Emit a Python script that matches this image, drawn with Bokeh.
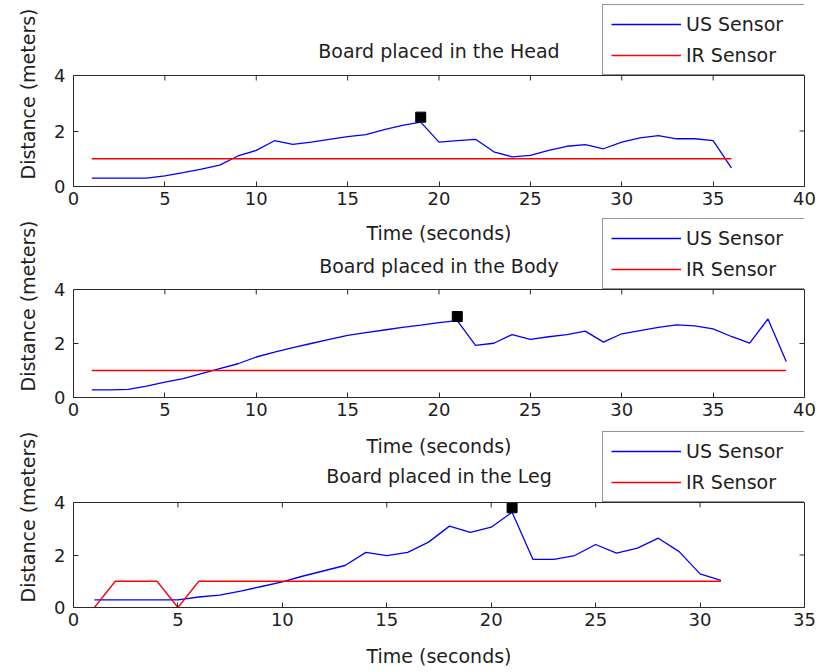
from bokeh.plotting import figure
from bokeh.layouts import column
from bokeh.models import (Range1d, FixedTicker, Legend, LegendItem, Label, LinearAxis, Span)
from bokeh.embed import file_html
from bokeh.resources import INLINE

# ---------------- data ----------------
head_time = [1, 2, 3, 4, 5, 6, 7, 8, 9, 10, 11, 12, 13, 14, 15, 16, 17, 18,
             19, 20, 21, 22, 23, 24, 25, 26, 27, 28, 29, 30, 31, 32, 33, 34, 35, 36]
head_us = [0.30, 0.30, 0.30, 0.30, 0.38, 0.50, 0.63, 0.77, 1.10, 1.30, 1.65, 1.52,
           1.60, 1.70, 1.80, 1.87, 2.05, 2.20, 2.32, 1.60, 1.65, 1.70, 1.25, 1.07,
           1.12, 1.30, 1.45, 1.51, 1.36, 1.60, 1.75, 1.83, 1.72, 1.72, 1.65, 0.67]
head_ir_time = [1, 36]
head_ir = [1, 1]
head_peak_time = [19]
head_peak = [2.5]

body_time = [1, 2, 3, 4, 5, 6, 7, 8, 9, 10, 11, 12, 13, 14, 15, 16, 17, 18, 19, 20,
             21, 22, 23, 24, 25, 26, 27, 28, 29, 30, 31, 32, 33, 34, 35, 36, 37, 38, 39]
body_us = [0.28, 0.28, 0.30, 0.42, 0.57, 0.70, 0.88, 1.07, 1.25, 1.50, 1.68, 1.85,
           2.00, 2.15, 2.30, 2.40, 2.50, 2.60, 2.68, 2.77, 2.85, 1.93, 2.01, 2.33,
           2.15, 2.25, 2.33, 2.46, 2.05, 2.36, 2.48, 2.60, 2.69, 2.65, 2.54, 2.26,
           2.01, 2.91, 1.33]
body_ir_time = [1, 39]
body_ir = [1, 1]
body_peak_time = [21]
body_peak = [3.0]

leg_time = [1, 2, 3, 4, 5, 6, 7, 8, 9, 10, 11, 12, 13, 14, 15, 16, 17, 18, 19, 20,
            21, 22, 23, 24, 25, 26, 27, 28, 29, 30, 31]
leg_us = [0.29, 0.29, 0.29, 0.29, 0.29, 0.40, 0.47, 0.62, 0.80, 0.98, 1.20, 1.40,
          1.60, 2.10, 1.98, 2.10, 2.49, 3.10, 2.86, 3.06, 3.63, 1.83, 1.83, 1.98,
          2.40, 2.07, 2.26, 2.64, 2.13, 1.28, 1.03]
leg_ir_time = [1, 2, 4, 5, 6, 31]
leg_ir = [0, 1, 1, 0, 1, 1]
leg_peak_time = [21]
leg_peak = [3.8]

y_ticks = [0, 2, 4]
x_ticks_40 = [0, 5, 10, 15, 20, 25, 30, 35, 40]
x_ticks_35 = [0, 5, 10, 15, 20, 25, 30, 35]

titles = ["Board placed in the Head", "Board placed in the Body", "Board placed in the Leg"]
x_label = "Time (seconds)"
y_label = "Distance (meters)"
series_names = ["US Sensor", "IR Sensor"]

# ---------------- style ----------------
FONT = "DejaVu Sans"
TXT = "#1e1e1e"
BOX = "#2a2a2a"
BLUE = "#0000ff"
RED = "#ff0000"
W = 818
LEFT = 73
FRAME_W = 731
YMAX = 4


def panel(t, us, ir_t, ir, pk_t, pk, xmax, xticks, title, height, frame_h, box_h,
          title_dy, prev_dy=None, own_xlabel=False):
    # the frame also holds the band above the axes box (title + legend),
    # the axes box itself is 0..YMAX, drawn by bounded axes and a span
    y_top = YMAX * frame_h / box_h
    p = figure(width=W, height=height, x_range=Range1d(0, xmax), y_range=Range1d(0, y_top),
               output_backend="svg", toolbar_location=None,
               min_border_left=LEFT, min_border_right=W - LEFT - FRAME_W,
               min_border_top=1, min_border_bottom=height - 1 - frame_h)
    p.background_fill_color = "white"
    p.border_fill_color = "white"
    p.outline_line_color = None
    p.xgrid.visible = False
    p.ygrid.visible = False

    for ax, ticks in ((p.xaxis[0], xticks), (p.yaxis[0], y_ticks)):
        ax.ticker = FixedTicker(ticks=ticks)
        ax.minor_tick_line_color = None
        ax.major_tick_in = 5
        ax.major_tick_out = 0
        ax.major_tick_line_color = BOX
        ax.axis_line_color = BOX
        ax.major_label_text_font = FONT
        ax.major_label_text_font_size = "18px"
        ax.major_label_text_color = TXT
    p.yaxis[0].bounds = (0, YMAX)
    p.xaxis[0].major_label_standoff = 5
    p.yaxis[0].major_label_standoff = 8
    p.yaxis[0].axis_label = y_label
    p.yaxis[0].axis_label_text_font = FONT
    p.yaxis[0].axis_label_text_font_size = "19px"
    p.yaxis[0].axis_label_text_font_style = "normal"
    p.yaxis[0].axis_label_text_color = TXT
    p.yaxis[0].axis_label_standoff = 12
    if own_xlabel:
        p.xaxis[0].axis_label = x_label
        p.xaxis[0].axis_label_text_font = FONT
        p.xaxis[0].axis_label_text_font_size = "19px"
        p.xaxis[0].axis_label_text_font_style = "normal"
        p.xaxis[0].axis_label_text_color = TXT
        p.xaxis[0].axis_label_standoff = 16

    # right edge of the box and top edge of the box
    p.add_layout(LinearAxis(bounds=(0, YMAX), ticker=FixedTicker(ticks=[]),
                            axis_line_color=BOX, major_tick_line_color=None,
                            minor_tick_line_color=None), "right")
    p.add_layout(Span(location=YMAX, dimension="width", line_color=BOX, line_width=1))

    # mirrored inward ticks on the top and right edges of the box
    p.ray(x=xticks, y=YMAX, length=5, length_units="screen",
          angle=-90, angle_units="deg", line_color=BOX, line_width=1)
    p.ray(x=xmax, y=y_ticks, length=5, length_units="screen",
          angle=180, angle_units="deg", line_color=BOX, line_width=1)

    r_us = p.line(t, us, line_color=BLUE, line_width=1.3)
    r_ir = p.line(ir_t, ir, line_color=RED, line_width=1.3)
    p.scatter(pk_t, pk, marker="square", size=10, fill_color="black", line_color="black")

    legend = Legend(items=[LegendItem(label=series_names[0], renderers=[r_us]),
                           LegendItem(label=series_names[1], renderers=[r_ir])],
                    location=(529, box_h), margin=0, padding=8, spacing=9,
                    glyph_width=70, glyph_height=20, label_height=20, label_width=110,
                    label_standoff=5, border_line_color=BOX, border_line_width=1,
                    background_fill_color="white", background_fill_alpha=1.0,
                    label_text_font=FONT, label_text_font_size="19px",
                    label_text_color=TXT)
    p.add_layout(legend, "center")

    p.add_layout(Label(x=FRAME_W / 2, y=box_h + title_dy, x_units="screen", y_units="screen",
                       text=title, text_align="center", text_baseline="middle",
                       text_font=FONT, text_font_size="19px", text_color=TXT))
    if prev_dy is not None:
        # x-axis label of the panel above, which sits in this panel's upper band
        p.add_layout(Label(x=FRAME_W / 2, y=box_h + prev_dy, x_units="screen",
                           y_units="screen", text=x_label, text_align="center",
                           text_baseline="middle", text_font=FONT, text_font_size="19px",
                           text_color=TXT))
    return p


p1 = panel(head_time, head_us, head_ir_time, head_ir, head_peak_time, head_peak, 40,
           x_ticks_40, titles[0], height=213, frame_h=185, box_h=111, title_dy=25)
p2 = panel(body_time, body_us, body_ir_time, body_ir, body_peak_time, body_peak, 40,
           x_ticks_40, titles[1], height=212, frame_h=183, box_h=108, title_dy=24, prev_dy=57)
p3 = panel(leg_time, leg_us, leg_ir_time, leg_ir, leg_peak_time, leg_peak, 35,
           x_ticks_35, titles[2], height=246, frame_h=181, box_h=105, title_dy=27, prev_dy=57,
           own_xlabel=True)

layout = column(p1, p2, p3, spacing=0)
open("out.html", "w").write(file_html(layout, INLINE))
